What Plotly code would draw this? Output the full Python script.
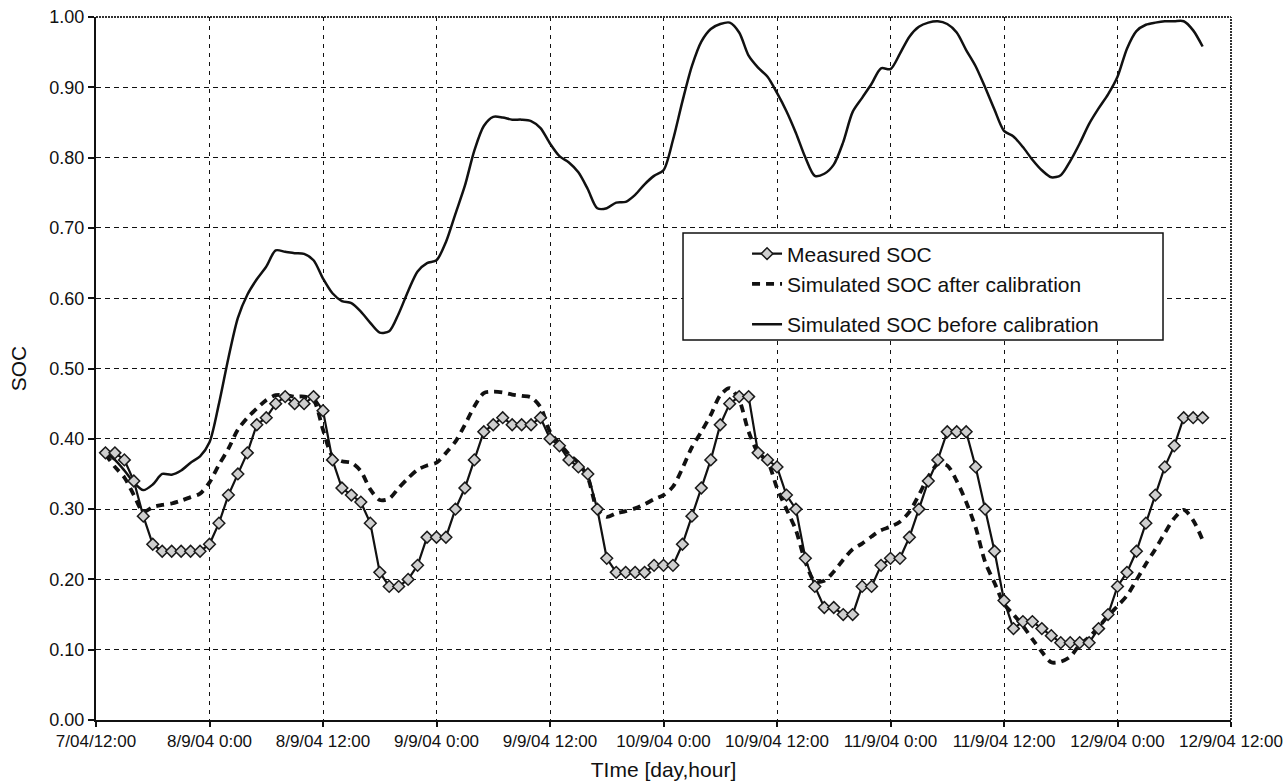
import pandas as pd
import plotly.graph_objects as go

# Hourly samples, 7/9/04 13:00 onwards
start_time = "2004-09-07 13:00"

measured_soc = [
    0.38, 0.38, 0.37, 0.34, 0.29, 0.25, 0.24, 0.24, 0.24, 0.24,
    0.24, 0.25, 0.28, 0.32, 0.35, 0.38, 0.42, 0.43, 0.45, 0.46,
    0.45, 0.45, 0.46, 0.44, 0.37, 0.33, 0.32, 0.31, 0.28, 0.21,
    0.19, 0.19, 0.20, 0.22, 0.26, 0.26, 0.26, 0.30, 0.33, 0.37,
    0.41, 0.42, 0.43, 0.42, 0.42, 0.42, 0.43, 0.40, 0.39, 0.37,
    0.36, 0.35, 0.30, 0.23, 0.21, 0.21, 0.21, 0.21, 0.22, 0.22,
    0.22, 0.25, 0.29, 0.33, 0.37, 0.42, 0.45, 0.46, 0.46, 0.38,
    0.37, 0.36, 0.32, 0.30, 0.23, 0.19, 0.16, 0.16, 0.15, 0.15,
    0.19, 0.19, 0.22, 0.23, 0.23, 0.26, 0.30, 0.34, 0.37, 0.41,
    0.41, 0.41, 0.36, 0.30, 0.24, 0.17, 0.13, 0.14, 0.14, 0.13,
    0.12, 0.11, 0.11, 0.11, 0.11, 0.13, 0.15, 0.19, 0.21, 0.24,
    0.28, 0.32, 0.36, 0.39, 0.43, 0.43, 0.43,
]

sim_after = [
    0.378, 0.360, 0.345, 0.320, 0.296, 0.303, 0.306, 0.308, 0.312, 0.317,
    0.322, 0.338, 0.363, 0.386, 0.413, 0.430, 0.443, 0.455, 0.462, 0.462,
    0.460, 0.460, 0.455, 0.413, 0.375, 0.368, 0.366, 0.354, 0.328, 0.313,
    0.315, 0.330, 0.344, 0.356, 0.362, 0.366, 0.380, 0.396, 0.420, 0.446,
    0.465, 0.467, 0.466, 0.463, 0.461, 0.459, 0.445, 0.410, 0.393, 0.378,
    0.366, 0.345, 0.300, 0.289, 0.294, 0.297, 0.301, 0.307, 0.314, 0.320,
    0.332, 0.358, 0.388, 0.410, 0.434, 0.462, 0.472, 0.455, 0.410, 0.380,
    0.368, 0.330, 0.300, 0.270, 0.225, 0.197, 0.198, 0.211, 0.228, 0.243,
    0.251, 0.261, 0.270, 0.275, 0.282, 0.296, 0.320, 0.346, 0.364, 0.362,
    0.340, 0.310, 0.274, 0.225, 0.195, 0.165, 0.150, 0.134, 0.115, 0.097,
    0.082, 0.083, 0.090, 0.107, 0.118, 0.132, 0.148, 0.162, 0.177, 0.199,
    0.222, 0.243, 0.266, 0.287, 0.299, 0.284, 0.256,
]

sim_before = [
    0.380, 0.370, 0.355, 0.338, 0.327, 0.335, 0.350, 0.349, 0.355, 0.366,
    0.375, 0.395, 0.450, 0.515, 0.572, 0.605, 0.627, 0.645, 0.668, 0.666,
    0.664, 0.663, 0.654, 0.628, 0.607, 0.596, 0.593, 0.581, 0.565, 0.551,
    0.553, 0.578, 0.610, 0.638, 0.650, 0.654, 0.680, 0.720, 0.760, 0.810,
    0.845, 0.858, 0.857, 0.854, 0.854, 0.852, 0.842, 0.820, 0.802, 0.793,
    0.779, 0.755, 0.728, 0.728, 0.736, 0.737, 0.747, 0.762, 0.774, 0.782,
    0.825, 0.880, 0.930, 0.965, 0.983, 0.990, 0.992, 0.978, 0.945, 0.928,
    0.915, 0.892, 0.866, 0.835, 0.800, 0.774, 0.777, 0.790, 0.822, 0.865,
    0.885, 0.905, 0.927, 0.926, 0.948, 0.972, 0.986, 0.992, 0.994, 0.990,
    0.978, 0.953, 0.930, 0.900, 0.868, 0.838, 0.830, 0.815, 0.797, 0.782,
    0.772, 0.775, 0.795, 0.820, 0.848, 0.870, 0.890, 0.915, 0.955, 0.980,
    0.989, 0.992, 0.994, 0.994, 0.994, 0.981, 0.958,
]

tick_times = pd.date_range("2004-09-07 12:00", "2004-09-12 12:00", freq="12h")
tick_labels = [
    "7/04/12:00", "8/9/04 0:00", "8/9/04 12:00", "9/9/04 0:00",
    "9/9/04 12:00", "10/9/04 0:00", "10/9/04 12:00", "11/9/04 0:00",
    "11/9/04 12:00", "12/9/04 0:00", "12/9/04 12:00",
]
y_ticks = [round(0.1 * i, 1) for i in range(11)]

times = pd.date_range(start_time, periods=len(measured_soc), freq="h")

FONT = "Liberation Sans, Arial, sans-serif"
INK = "#111111"

fig = go.Figure()

fig.add_trace(go.Scatter(
    x=times, y=sim_before, mode="lines",
    name="Simulated SOC before calibration",
    line=dict(color=INK, width=2.5, shape="spline", smoothing=0.8),
    legendgroup="b", legendrank=3,
))
fig.add_trace(go.Scatter(
    x=times, y=sim_after, mode="lines",
    name="Simulated SOC after calibration",
    line=dict(color=INK, width=3.8, dash="8px,6px", shape="spline", smoothing=0.8),
    legendgroup="a", legendrank=2,
))
fig.add_trace(go.Scatter(
    x=times, y=measured_soc, mode="lines+markers",
    name="Measured SOC",
    line=dict(color=INK, width=2.2),
    marker=dict(symbol="diamond", size=9, color="#cfcfcf",
                line=dict(color="#1a1a1a", width=1.5)),
    legendgroup="a", legendrank=1,
))

# framed legend box (white fill hides the grid behind it)
fig.add_shape(type="rect", xref="paper", yref="paper",
              x0=0.5172, x1=0.9401, y0=0.5405, y1=0.6927,
              fillcolor="white", line=dict(color=INK, width=1.5), layer="above")
# dotted plot-area border on the top and right
fig.add_shape(type="line", xref="paper", yref="paper", x0=0, x1=1, y0=1, y1=1,
              line=dict(color="#333333", width=2, dash="2px,1px"), layer="above")
fig.add_shape(type="line", xref="paper", yref="paper", x0=1, x1=1, y0=0, y1=1,
              line=dict(color="#333333", width=2, dash="2px,1px"), layer="above")

fig.update_layout(
    width=1284, height=782,
    margin=dict(l=96, r=53, t=17, b=62, pad=0, autoexpand=False),
    paper_bgcolor="white", plot_bgcolor="white",
    font=dict(family=FONT, color=INK, size=17),
    showlegend=True,
    legend=dict(
        x=0.5736, y=0.692, xanchor="left", yanchor="top",
        bgcolor="rgba(0,0,0,0)", borderwidth=0,
        font=dict(family=FONT, size=21, color=INK),
        tracegroupgap=10, traceorder="grouped",
    ),
)

fig.update_xaxes(
    type="date", automargin=False,
    range=[tick_times[0], tick_times[-1]],
    tickvals=tick_times, ticktext=tick_labels,
    ticks="outside", ticklen=5, tickwidth=1.5, tickcolor=INK,
    tickfont=dict(family=FONT, size=17, color=INK),
    showline=True, linecolor=INK, linewidth=2,
    showgrid=True, gridcolor=INK, gridwidth=1, griddash="4px,5px",
    zeroline=False,
    title=dict(text="TIme [day,hour]", font=dict(family=FONT, size=21, color=INK), standoff=12),
)
fig.update_yaxes(
    automargin=False,
    range=[0, 1.0],
    tickvals=y_ticks, tickformat=".2f",
    ticks="outside", ticklen=6, tickwidth=1.5, tickcolor=INK,
    tickfont=dict(family=FONT, size=18, color=INK),
    showline=True, linecolor=INK, linewidth=2,
    showgrid=True, gridcolor=INK, gridwidth=1, griddash="5px,4px",
    zeroline=False,
    title=dict(text="SOC", font=dict(family=FONT, size=21, color=INK), standoff=17),
)

fig.write_html("out.html")
